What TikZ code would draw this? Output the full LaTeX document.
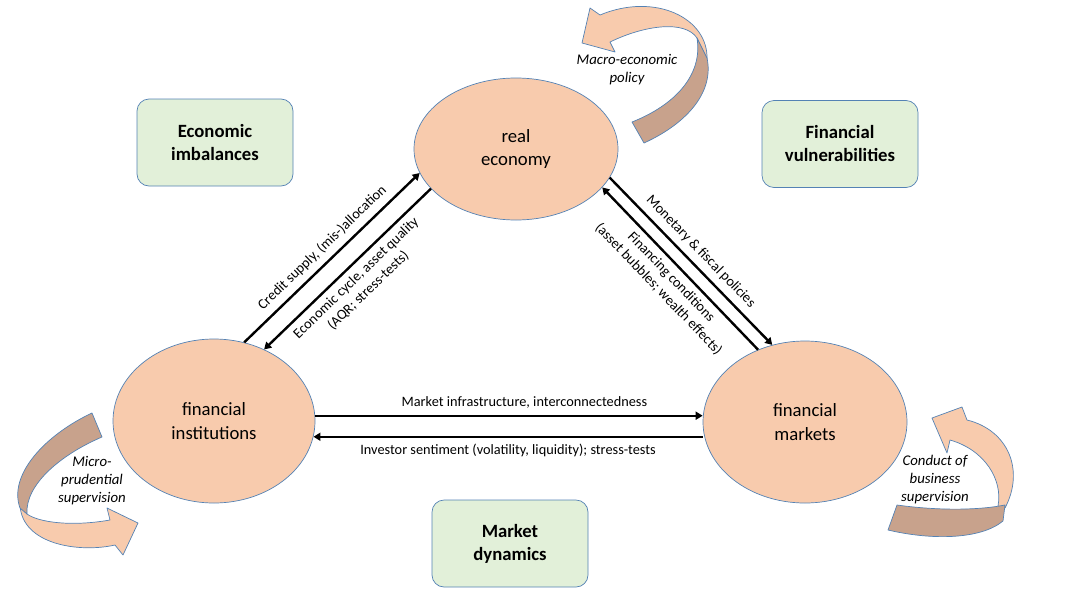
\documentclass[tikz,border=0pt]{standalone}
\usepackage{fontspec}
\setmainfont{Carlito}
\usetikzlibrary{arrows.meta,shapes.geometric}
\definecolor{peach}{RGB}{248,203,173}
\definecolor{arrowbrown}{RGB}{200,162,140}
\definecolor{leaf}{RGB}{226,240,217}
\definecolor{rim}{RGB}{84,130,180}
\tikzset{
	sector/.style={ellipse,draw=rim,fill=peach,line width=0.7pt,inner sep=0pt,align=center,font=\fontsize{18.7}{23.5}\selectfont},
	theme/.style={rounded corners=12pt,draw=rim,fill=leaf,line width=0.7pt,minimum width=156pt,minimum height=87pt,align=center,font=\bfseries\fontsize{18.7}{23}\selectfont},
	link/.style={line width=2.4pt,-{Triangle[length=7pt,width=8pt]}},
	tag/.style={font=\fontsize{14.3}{17.5}\selectfont,align=center},
	policy/.style={font=\itshape\fontsize{14.8}{18}\selectfont,align=center},
	front/.style={fill=peach,draw=rim,line width=0.7pt,line join=round},
	back/.style={fill=arrowbrown,draw=rim,line width=0.7pt,line join=round},
}
\begin{document}
\begin{tikzpicture}[x=1pt,y=-1pt]
	\useasboundingbox (0,0) rectangle (1071,600);
	% the three sectors
	\node[sector,minimum width=204pt,minimum height=142pt] (re) at (516,149) {real\\economy};
	\node[sector,minimum width=202pt,minimum height=164pt] (fi) at (214,421) {financial\\institutions};
	\node[sector,minimum width=204pt,minimum height=162pt] (fm) at (805,422) {financial\\markets};
	% themes
	\node[theme] (ei) at (215,142.5) {Economic\\imbalances};
	\node[theme] (fv) at (840,144) {Financial\\vulnerabilities};
	\node[theme] (md) at (510,543.5) {Market\\dynamics};
	% links between the sectors
	\draw[link] (fi.69) -- node[tag,sloped,above=3pt] {Credit supply, (mis-)allocation} (re.194);
	\draw[link] (re.205) -- node[tag,sloped,below=2pt] {Economic cycle, asset quality\\(AQR; stress-tests)} (fi.55);
	\draw[link] (re.-17) -- node[tag,sloped,above=3pt] {Monetary \& fiscal policies} (fm.113);
	\draw[link] (fm.123) -- node[tag,sloped,below=2pt] {Financing conditions\\(asset bubbles; wealth effects)} (re.-24);
	\draw[link] (fi.3) -- node[tag,above=3pt,pos=0.54] {Market infrastructure, interconnectedness} (fi.3 -| fm.west);
	\draw[link] (fi.-9 -| fm.west) -- node[tag,below=3pt] {Investor sentiment (volatility, liquidity); stress-tests} (fi.-9);
	% curved policy arrows
	\filldraw[front] (707,60) .. controls (709,18) and (655,-8) .. (600,15) -- (590,8) -- (582,43) -- (615,52) -- (610,42) .. controls (645,25) and (685,20) .. (697,38) -- cycle;
	\filldraw[back] (697,38) .. controls (703,75) and (675,105) .. (632,122) -- (644,143) .. controls (690,122) and (714,90) .. (707,58) -- cycle;
	\filldraw[front] (20,505) .. controls (22,545) and (80,553) .. (115,545) -- (123,555) -- (138,523) -- (107,508) -- (110,520) .. controls (70,527) and (38,522) .. (27,514) -- cycle;
	\filldraw[back] (92,413) .. controls (45,435) and (8,475) .. (20,508) -- (27,514) .. controls (25,485) and (60,455) .. (102,437) -- cycle;
	\filldraw[front] (1005,508) .. controls (1025,470) and (1008,430) .. (967,420) -- (962,407) -- (932,418) -- (947,453) -- (950,440) .. controls (985,450) and (1003,480) .. (998,506) -- cycle;
	\filldraw[back] (897,505) .. controls (940,511) and (980,510) .. (1005,505) -- (1003,521) .. controls (980,540) and (930,540) .. (888,530) -- cycle;
	\node[policy] (mp) at (627,70) {Macro-economic\\policy};
	\node[policy] (mps) at (92,481) {Micro-\\prudential\\supervision};
	\node[policy] (cbs) at (935,480) {Conduct of\\business\\supervision};
\end{tikzpicture}
\end{document}
